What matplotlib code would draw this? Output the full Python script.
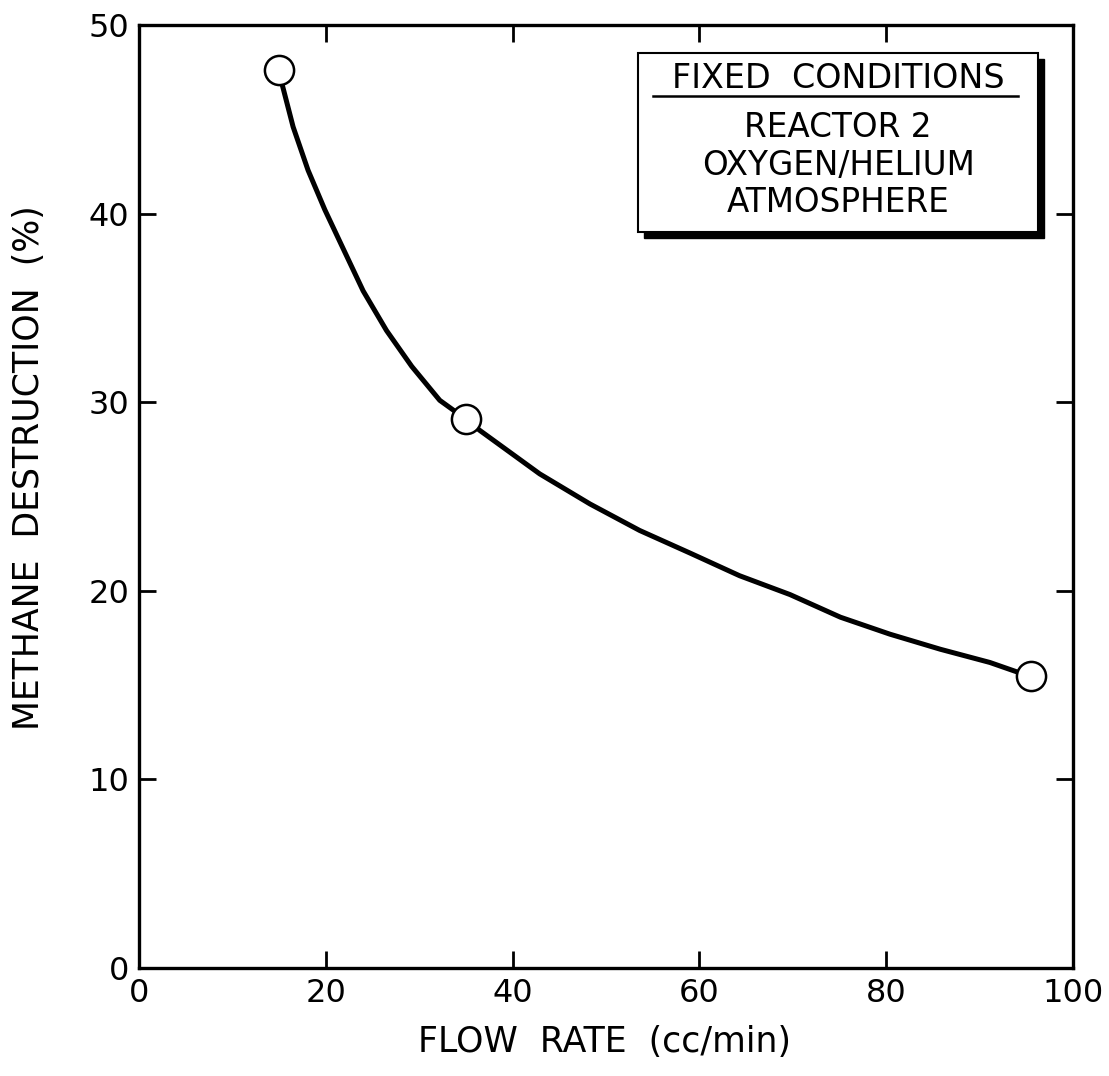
import matplotlib
matplotlib.use("Agg")
import matplotlib.pyplot as plt
from matplotlib.patches import Rectangle
from matplotlib.lines import Line2D

plt.rcParams['font.family'] = ['DejaVu Sans']

# Measured points
flow_rate = [15.0, 35.0, 95.5]
destruction = [47.6, 29.1, 15.5]

# Hand-drawn smooth curve
curve_x = [15.0, 15.3, 16.5, 18.1, 19.9, 21.9, 24.0, 26.5, 29.2, 32.2, 35.0,
           36.5, 42.9, 48.3, 53.6, 59.0, 64.3, 69.7, 75.1, 80.4, 85.8, 91.1, 94.0, 95.5]
curve_y = [47.6, 46.9, 44.6, 42.3, 40.2, 38.1, 35.9, 33.8, 31.9, 30.1, 29.1,
           28.5, 26.2, 24.6, 23.2, 22.0, 20.8, 19.8, 18.6, 17.7, 16.9, 16.2, 15.7, 15.5]

x_ticks = [0, 20, 40, 60, 80, 100]
y_ticks = [0, 10, 20, 30, 40, 50]
x_label = "FLOW  RATE  (cc/min)"
y_label = "METHANE  DESTRUCTION  (%)"
box_title = "FIXED  CONDITIONS"
box_lines = ["REACTOR 2", "OXYGEN/HELIUM", "ATMOSPHERE"]

W, H = 1109, 1076
fig = plt.figure(figsize=(W / 100, H / 100), dpi=100)
ax = fig.add_axes([139 / W, 1 - 968 / H, (1073 - 139) / W, (968 - 25) / H])

ax.plot(curve_x, curve_y, color='black', lw=3.6, solid_capstyle='round',
        solid_joinstyle='round', zorder=2)
ax.plot(flow_rate, destruction, 'o', ms=21, mfc='white', mec='black', mew=1.8, zorder=3)

ax.set_xlim(0, 100)
ax.set_ylim(0, 50)
ax.set_xticks(x_ticks)
ax.set_yticks(y_ticks)
ax.tick_params(direction='in', length=12, width=2, top=True, right=True,
               labelsize=23, pad=7)
for s in ax.spines.values():
    s.set_linewidth(2.4)

ax.set_xlabel(x_label, fontsize=25)
ax.set_ylabel(y_label, fontsize=25)
ax.xaxis.set_label_coords((605 - 139) / 934, (968 - 1042) / 943)
ax.xaxis.label.set_va('center')
ax.yaxis.set_label_coords((29 - 139) / 934, (968 - 468) / 943)
ax.yaxis.label.set_va('center')

# Fixed conditions box with drop shadow (figure pixel coordinates)
bx0, bx1, by0, by1 = 638, 1038, 53, 232
sh = 6
fig.patches.append(Rectangle(((bx0 + sh) / W, 1 - (by1 + sh) / H), (bx1 - bx0) / W, (by1 - by0) / H,
                             transform=fig.transFigure, facecolor='black', edgecolor='black', zorder=5))
fig.patches.append(Rectangle((bx0 / W, 1 - by1 / H), (bx1 - bx0) / W, (by1 - by0) / H,
                             transform=fig.transFigure, facecolor='white', edgecolor='black',
                             lw=1.5, zorder=6))
cx = (bx0 + bx1) / 2 / W
fig.text(cx, 1 - 78 / H, box_title, ha='center', va='center', fontsize=24, zorder=7)
fig.lines.append(Line2D([653 / W, 1018 / W], [1 - 96 / H, 1 - 96 / H], transform=fig.transFigure,
                        color='black', lw=1.8, zorder=7))
for i, t in enumerate(box_lines):
    fig.text(cx, 1 - (128 + 37.5 * i) / H, t, ha='center', va='center', fontsize=23.5, zorder=7)

fig.savefig("out.png", dpi=100)
